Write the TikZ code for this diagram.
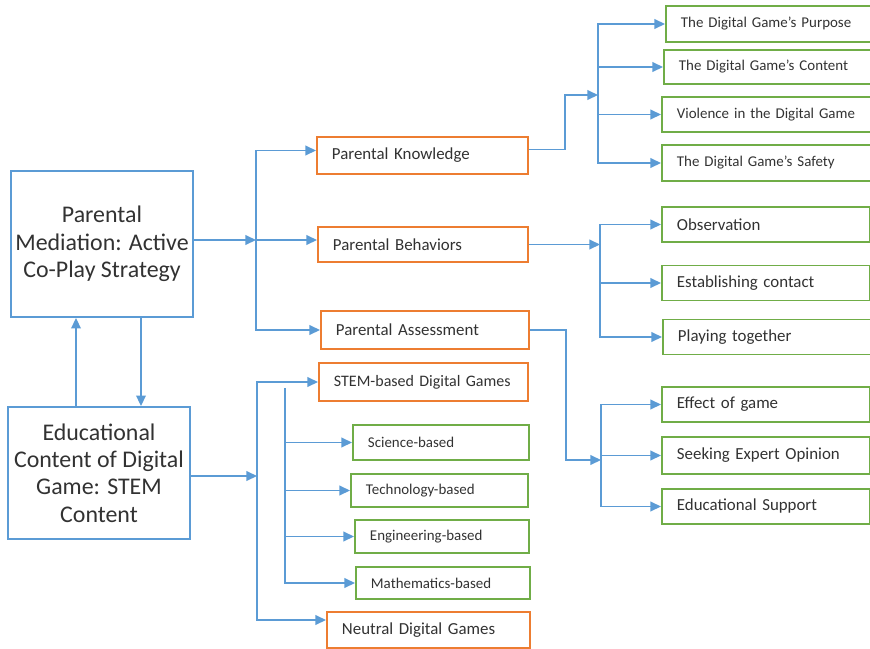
\documentclass[tikz,border=0pt]{standalone}
\usepackage{fontspec}
\setmainfont{Carlito}
\usetikzlibrary{arrows.meta, positioning, calc}
\definecolor{lineblue}{RGB}{91,155,213}
\definecolor{boxorange}{RGB}{237,125,49}
\definecolor{boxgreen}{RGB}{112,173,71}
\definecolor{textgray}{RGB}{50,50,50}

\begin{document}
\begin{tikzpicture}[x=0.02cm, y=-0.02cm, mainbox/.style={draw=lineblue,
      line width=1.1pt, align=center, text=textgray, inner xsep=2pt,
      minimum width=3.64cm, font=\fontsize{13.6pt}{15.6pt}\selectfont},
      catbox/.style={draw=boxorange, line width=1.1pt, anchor=west,
      align=left, inner xsep=0.3cm, text=textgray,
      font=\fontsize{9.6pt}{11pt}\selectfont}, subbox/.style={draw=boxgreen,
      line width=1.1pt, anchor=west, align=left, inner xsep=0.3cm,
      text=textgray, font=\fontsize{8.5pt}{10pt}\selectfont},
      itembox/.style={subbox, text width=3.56cm, minimum height=0.7cm,
      font=\fontsize{9.6pt}{11pt}\selectfont},
      link/.style={lineblue, line width=0.8pt},
      linkarrow/.style={link, -{Triangle[length=6pt, width=5.5pt]}} ]
    \useasboundingbox (0,0) rectangle (870,649);

    % Main boxes
    \node[mainbox, minimum height=2.92cm] (med) at (102,244) {Parental\\Mediation:
    Active\\Co-Play Strategy}; \node[mainbox, minimum height=2.64cm] (edu) at
    (99,473) {Educational\\Content of Digital\\Game: STEM\\Content};

    % Orange categories
    \node[catbox, text width=3.62cm, minimum height=0.74cm] (know) at (316,155.5)
    {Parental Knowledge}; \node[catbox, text width=3.6cm, minimum height=0.7cm]
    (behav) at (317,244.5) {Parental Behaviors}; \node[catbox, text
    width=3.56cm, minimum height=0.76cm] (assess) at (320,330) {Parental
    Assessment}; \node[catbox, text width=3.58cm, minimum height=0.76cm,
    font=\fontsize{9.1pt}{11pt}\selectfont] (stem) at (318,382) {STEM-based
    Digital Games}; \node[catbox, text width=3.46cm, minimum height=0.72cm]
    (neutral) at (326,630) {Neutral Digital Games};

    % STEM subjects
    \node[subbox, text width=2.92cm, minimum height=0.7cm] (sci) at (352,442.5)
    {Science-based}; \node[subbox, text width=2.94cm, minimum height=0.66cm]
    (tech) at (350,490.5) {Technology-based}; \node[subbox, text width=2.88cm,
    minimum height=0.66cm] (eng) at (354,536.5) {Engineering-based};
    \node[subbox, text width=2.88cm, minimum height=0.64cm] (math) at (355,583)
    {Mathematics-based};

    % Knowledge items
    \node[subbox, text width=3.5cm, minimum height=0.72cm] (purp) at (665,24)
    {The Digital Game's Purpose}; \node[subbox, text width=3.54cm, minimum
    height=0.68cm] (cont) at (663,67) {The Digital Game's Content};
    \node[subbox, text width=3.58cm, minimum height=0.7cm] (viol) at (661,114.5)
    {Violence in the Digital Game}; \node[subbox, text width=3.58cm, minimum
    height=0.72cm] (safe) at (661,163) {The Digital Game's Safety};

    % Behavior items
    \node[itembox] (obs) at (661,224.5) {Observation}; \node[itembox] (est) at
    (661,283) {Establishing contact}; \node[itembox] (play) at (662,337)
    {Playing together};

    % Assessment items
    \node[itembox] (eff) at (661,404.5) {Effect of game}; \node[itembox,
    minimum height=0.74cm] (seek) at (661,455.5) {Seeking Expert Opinion};
    \node[itembox] (esup) at (661,506.5) {Educational Support};

    % Junctions
    \coordinate (j1) at (256,240); \coordinate (j2) at (598,95); \coordinate
    (j3) at (600,244.5); \coordinate (j4) at (601,460); \coordinate (j5) at
    (257,476); \coordinate (j6) at (285,388);

    % Links between main boxes
    \draw[linkarrow] ([xshift=-0.46cm]edu.north) -- ([xshift=-0.46cm]edu.north
    |- med.south); \draw[linkarrow] ([xshift=0.78cm]med.south) --
    ([xshift=0.78cm]med.south |- edu.north);

    % Mediation tree
    \draw[linkarrow] (med.east |- j1) -- (j1); \draw[linkarrow] (j1) |-
    ([yshift=0.1cm]know.west); \draw[linkarrow] (j1) -- (j1 -| behav.west);
    \draw[linkarrow] (j1) |- (assess.west);

    % Knowledge branch
    \draw[linkarrow] ([yshift=0.12cm]know.east) -- ++(36,0) |- (j2); \foreach
    \n in {purp,cont,viol,safe} \draw[linkarrow] (j2) |- (\n.west);

    % Behaviors branch
    \draw[linkarrow] (behav.east) -- (j3); \foreach \n in {obs,est,play}
    \draw[linkarrow] (j3) |- (\n.west);

    % Assessment branch
    \draw[linkarrow] (assess.east) -- ++(36,0) |- (j4); \foreach \n in
    {eff,seek,esup} \draw[linkarrow] (j4) |- (\n.west);

    % Educational content tree
    \draw[linkarrow] (edu.east |- j5) -- (j5); \draw[linkarrow] (j5) |-
    (stem.west); \draw[linkarrow] (j5) |- ([yshift=0.2cm]neutral.west);
    \draw[linkarrow] (j6) |- (math.west); \foreach \n in {sci,tech,eng}
    \draw[linkarrow] (j6 |- \n.west) -- (\n.west);

    \end{tikzpicture}
\end{document}
